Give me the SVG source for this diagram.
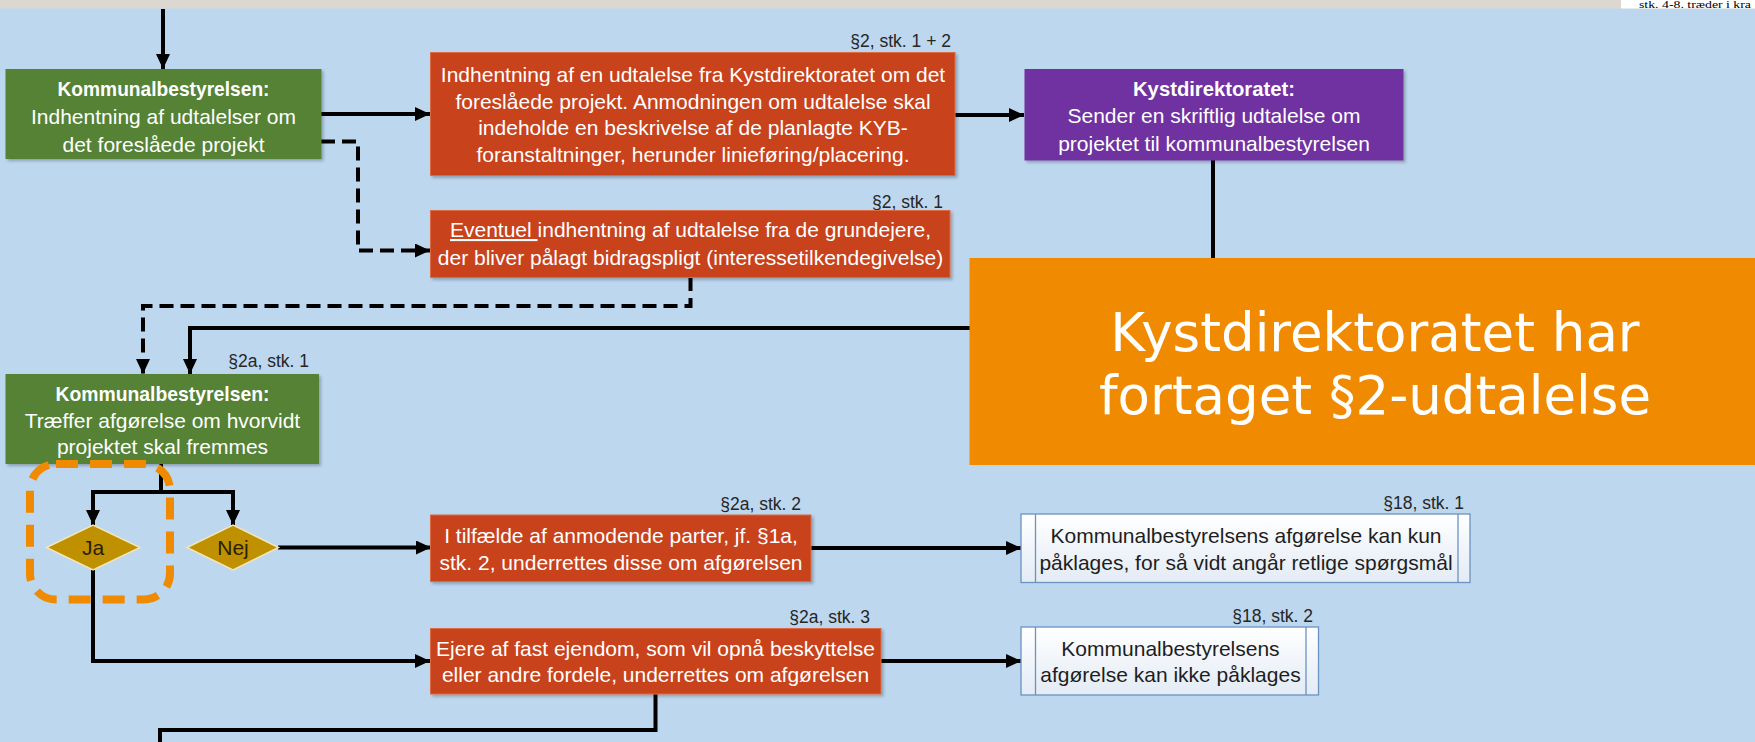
<svg xmlns="http://www.w3.org/2000/svg" width="1755" height="742" viewBox="0 0 1755 742">
  <style>
    .t { font-family: "Liberation Sans", Arial, sans-serif; font-size: 21px; fill: #ffffff; text-anchor: middle; }
    .tb { font-weight: bold; }
    .dk { fill: #1e1e1e; }
    .lbl { font-family: "Liberation Sans", Arial, sans-serif; font-size: 17.5px; fill: #262626; text-anchor: end; }
    .green { fill: #548235; }
    .red { fill: #c8421b; stroke: #dc6a44; stroke-width: 1; }
    .purple { fill: #7030a0; }
    .dia { fill: #bf9000; stroke: #f3e6b8; stroke-width: 1.5; }
    .pp { fill: url(#ppg); stroke: #6a93c2; stroke-width: 1.3; }
    .ppl { stroke: #6a93c2; stroke-width: 1.3; fill: none; }
    .con { fill: none; stroke: #000; stroke-width: 4; }
    .arr { marker-end: url(#ah); }
    .dash { stroke-dasharray: 14 7; }
  </style>
  <defs>
    <marker id="ah" markerUnits="userSpaceOnUse" markerWidth="16" markerHeight="16" refX="15" refY="7" orient="auto">
      <path d="M0,0 L15,7 L0,14 z" fill="#000"/>
    </marker>
    <linearGradient id="ppg" x1="0" y1="0" x2="0" y2="1">
      <stop offset="0" stop-color="#ffffff"/>
      <stop offset="1" stop-color="#e3ebf5"/>
    </linearGradient>
    <filter id="sh" x="-5%" y="-5%" width="110%" height="115%">
      <feDropShadow dx="2" dy="2" stdDeviation="1.5" flood-color="#000" flood-opacity="0.25"/>
    </filter>
  </defs>

  <!-- background -->
  <rect x="0" y="0" width="1755" height="742" fill="#bdd7ee"/>
  <rect x="0" y="0" width="1755" height="8.5" fill="#dcd7d1"/>
  <rect x="1621" y="0" width="134" height="8.5" fill="#ffffff"/>
  <text x="1639" y="8" font-family="Liberation Serif, Times New Roman, serif" font-size="9.5" fill="#000" textLength="112" lengthAdjust="spacingAndGlyphs">stk. 4-8. træder i kra</text>

  <!-- connectors -->
  <g id="connectors">
    <path class="con arr" d="M163,9 V69"/>
    <path class="con arr" d="M321,114 H430"/>
    <path class="con dash arr" d="M321,141.5 H358 V250.5 H430"/>
    <path class="con arr" d="M955,115 H1024"/>
    <path class="con" d="M1213,160 V328 H190"/>
    <path class="con arr" d="M190,326 V374"/>
    <path class="con dash arr" d="M690.5,277 V306 H143 V374"/>
    <path class="con" d="M161,464 V492"/>
    <path class="con arr" d="M163,492 H93 V525"/>
    <path class="con arr" d="M159,492 H233 V525"/>
    <path class="con arr" d="M278,547.5 H431"/>
    <path class="con arr" d="M811,548 H1021"/>
    <path class="con arr" d="M93,570 V661 H430"/>
    <path class="con arr" d="M881,661 H1021"/>
    <path class="con" d="M655.5,694 V730 H160 V745"/>
  </g>

  <!-- green 1 -->
  <g id="n_kb1">
    <rect class="green" x="5.5" y="69" width="316" height="90" filter="url(#sh)"/>
    <text class="t tb" x="163.5" y="96" textLength="212" lengthAdjust="spacingAndGlyphs">Kommunalbestyrelsen:</text>
    <text class="t" x="163.5" y="124">Indhentning af udtalelser om</text>
    <text class="t" x="163.5" y="152">det foreslåede projekt</text>
  </g>

  <!-- red 1 -->
  <g id="n_udtalelse">
    <text class="lbl" x="951" y="46.5">§2, stk. 1 + 2</text>
    <rect class="red" x="430.5" y="52.5" width="524.5" height="123" filter="url(#sh)"/>
    <text class="t" x="693" y="82">Indhentning af en udtalelse fra Kystdirektoratet om det</text>
    <text class="t" x="693" y="108.5">foreslåede projekt. Anmodningen om udtalelse skal</text>
    <text class="t" x="693" y="135">indeholde en beskrivelse af de planlagte KYB-</text>
    <text class="t" x="693" y="162">foranstaltninger, herunder linieføring/placering.</text>
  </g>

  <!-- red 2 -->
  <g id="n_eventuel">
    <text class="lbl" x="943" y="207.5">§2, stk. 1</text>
    <rect class="red" x="430.5" y="210.5" width="519.5" height="67" filter="url(#sh)"/>
    <text class="t" x="690.5" y="237"><tspan text-decoration="underline">Eventuel </tspan>indhentning af udtalelse fra de grundejere,</text>
    <text class="t" x="690.5" y="265">der bliver pålagt bidragspligt (interessetilkendegivelse)</text>
  </g>

  <!-- purple -->
  <g id="n_kyst">
    <rect class="purple" x="1024.5" y="69" width="379" height="91.5" filter="url(#sh)"/>
    <text class="t tb" x="1214" y="95.5" textLength="162" lengthAdjust="spacingAndGlyphs">Kystdirektoratet:</text>
    <text class="t" x="1214" y="123">Sender en skriftlig udtalelse om</text>
    <text class="t" x="1214" y="150.5">projektet til kommunalbestyrelsen</text>
  </g>

  <!-- orange overlay -->
  <g id="n_overlay">
    <rect x="969.5" y="258" width="786" height="207" fill="#f08a00"/>
    <text x="1375" y="351" font-family="DejaVu Sans, Verdana, sans-serif" font-size="53" fill="#ffffff" text-anchor="middle">Kystdirektoratet har</text>
    <text x="1375" y="414" font-family="DejaVu Sans, Verdana, sans-serif" font-size="53" fill="#ffffff" text-anchor="middle">fortaget §2-udtalelse</text>
  </g>

  <!-- green 2 -->
  <g id="n_kb2">
    <text class="lbl" x="309" y="367">§2a, stk. 1</text>
    <rect class="green" x="5.5" y="374" width="313.5" height="90" filter="url(#sh)"/>
    <text class="t tb" x="162.5" y="401" textLength="214" lengthAdjust="spacingAndGlyphs">Kommunalbestyrelsen:</text>
    <text class="t" x="162.5" y="428">Træffer afgørelse om hvorvidt</text>
    <text class="t" x="162.5" y="454">projektet skal fremmes</text>
  </g>

  <!-- diamonds -->
  <g id="n_ja">
    <polygon class="dia" points="46.5,547.5 93,525 140,547.5 93,570"/>
    <text class="t" x="93" y="554.5" font-size="19" style="fill:#2a2000">Ja</text>
  </g>
  <g id="n_nej">
    <polygon class="dia" points="187,547.5 233,525 278.5,547.5 233,570"/>
    <text class="t" x="233" y="554.5" font-size="19" style="fill:#2a2000">Nej</text>
  </g>

  <!-- red 3 -->
  <g id="n_anmodende">
    <text class="lbl" x="801" y="510">§2a, stk. 2</text>
    <rect class="red" x="430.5" y="515" width="380.5" height="66.5" filter="url(#sh)"/>
    <text class="t" x="621" y="543">I tilfælde af anmodende parter, jf. §1a,</text>
    <text class="t" x="621" y="569.5">stk. 2, underrettes disse om afgørelsen</text>
  </g>

  <!-- red 4 -->
  <g id="n_ejere">
    <text class="lbl" x="870" y="622.5">§2a, stk. 3</text>
    <rect class="red" x="430.5" y="628.5" width="450.5" height="65.5" filter="url(#sh)"/>
    <text class="t" x="655.5" y="656">Ejere af fast ejendom, som vil opnå beskyttelse</text>
    <text class="t" x="655.5" y="682">eller andre fordele, underrettes om afgørelsen</text>
  </g>

  <!-- §18 box 1 -->
  <g id="n_klage1">
    <text class="lbl" x="1464" y="509">§18, stk. 1</text>
    <rect class="pp" x="1021" y="514" width="449" height="68.5"/>
    <path class="ppl" d="M1035.5,514 V582.5 M1458,514 V582.5"/>
    <text class="t dk" x="1246" y="543">Kommunalbestyrelsens afgørelse kan kun</text>
    <text class="t dk" x="1246" y="569.5">påklages, for så vidt angår retlige spørgsmål</text>
  </g>

  <!-- §18 box 2 -->
  <g id="n_klage2">
    <text class="lbl" x="1313" y="621.5">§18, stk. 2</text>
    <rect class="pp" x="1021" y="627" width="297.5" height="68"/>
    <path class="ppl" d="M1035.5,627 V695 M1306,627 V695"/>
    <text class="t dk" x="1170.5" y="655.5">Kommunalbestyrelsens</text>
    <text class="t dk" x="1170.5" y="682">afgørelse kan ikke påklages</text>
  </g>

  <!-- highlight -->
  <rect x="30" y="464" width="140" height="135.5" rx="26" fill="none" stroke="#f08a00" stroke-width="8" stroke-dasharray="22 12"/>
</svg>
